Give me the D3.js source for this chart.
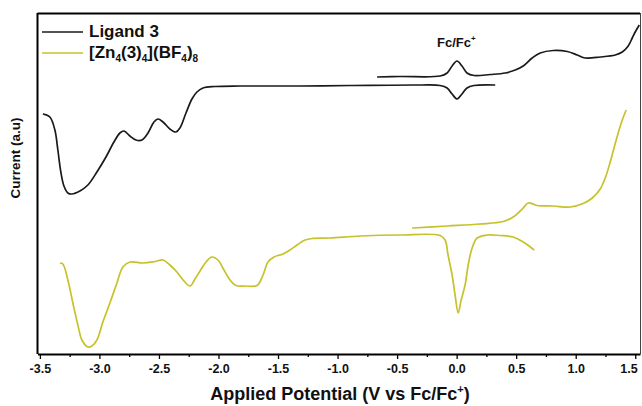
<html>
<head>
<meta charset="utf-8">
<script src="https://d3js.org/d3.v7.min.js"></script>
</head>
<style>
    body { margin: 0; background: #fff; }
    text { font-family: "Liberation Sans", Arial, sans-serif; font-weight: bold; }
    .x-axis .domain { stroke: #000; stroke-width: 2; }
    .x-axis line { stroke: #000; stroke-width: 1.3; }
</style>
<body>
<svg id="cv" width="642" height="406"></svg>
<script>
// potentials (V vs Fc/Fc+) and current (a.u.)
const ligandScan1_V = [-3.475,-3.416,-3.374,-3.349,-3.324,-3.298,-3.265,-3.231,-3.164,-3.097,-3.021,-2.945,-2.878,-2.828,-2.794,-2.744,-2.693,-2.643,-2.592,-2.542,-2.508,-2.466,-2.408,-2.357,-2.324,-2.273,-2.223,-2.181,-2.130,-2.029,-1.819,-1.315,-0.895,-0.307,-0.139,-0.080,-0.038,0.003,0.045,0.087,0.146,0.324];
const ligandScan1_I = [239,236,223,203,181,167,160,159,162,168,181,196,211,220,222,217,213,213,220,231,234,231,224,221,225,240,254,261,265,266.5,267,267,267.5,268,267.5,265,259,254,259,265,267.5,268];

const ligandScan2_V = [-0.668,-0.475,-0.139,-0.080,-0.038,0.003,0.045,0.087,0.146,0.282,0.408,0.492,0.559,0.634,0.702,0.811,0.929,1.013,1.080,1.206,1.332,1.391,1.441,1.475,1.500,1.534];
const ligandScan2_I = [276,276.5,277,280,287,292,287,280,277.5,278.5,280,283,287,295,300,302.5,301.5,298,295,296,298,301,307,315,321,328];

const complexScan1_V = [-3.332,-3.307,-3.265,-3.223,-3.181,-3.147,-3.097,-3.063,-3.021,-2.971,-2.912,-2.853,-2.803,-2.744,-2.634,-2.534,-2.466,-2.408,-2.349,-2.290,-2.239,-2.197,-2.155,-2.105,-2.055,-2.004,-1.954,-1.903,-1.853,-1.777,-1.676,-1.626,-1.584,-1.534,-1.458,-1.399,-1.340,-1.273,-1.214,-1.063,-0.811,-0.475,-0.139,-0.097,-0.072,-0.038,-0.013,0.013,0.038,0.071,0.097,0.130,0.172,0.256,0.366,0.475,0.559,0.609,0.651];
const complexScan1_I = [90,89,73,50,28,13,6,7,13,31,50,70,86,91,90,91.5,93,88,81,72,67,74,82,91,96,93,83,73,67.5,67,67.5,78,91,96,99,103,108,113,114.5,115,117,118,117.5,113,98,78,58,40,53,68,88,105,115,118,117.5,116,111,107,103];

const complexScan2_V = [-0.374,-0.080,0.197,0.391,0.475,0.525,0.559,0.601,0.643,0.676,0.811,0.954,1.063,1.139,1.206,1.248,1.290,1.324,1.357,1.391,1.424];
const complexScan2_I = [125,127,129,131.5,136,141,145,150,149,147.5,147,146,149.5,155,164,175,191,206,220,233,243];

const xTicks = d3.range(-3.5, 1.51, 0.25);
const legendNames = ["Ligand 3", "complex"];
const colors = ["#1a1a1a", "#c6c22a"];

const svg = d3.select("#cv");
const x = d3.scaleLinear().domain([-3.52, 1.54]).range([37.5, 640]);
const y = d3.scaleLinear().domain([0, 340]).range([353, 13]);

const zip = (a, b) => a.map((v, i) => [v, b[i]]);
const line = d3.line().x(d => x(d[0])).y(d => y(d[1])).curve(d3.curveCatmullRom.alpha(0.5));
const isMajor = d => Math.abs(d * 2 - Math.round(d * 2)) < 1e-6;

const series = [
    { pts: zip(complexScan1_V, complexScan1_I), c: colors[1] },
    { pts: zip(complexScan2_V, complexScan2_I), c: colors[1] },
    { pts: zip(ligandScan1_V, ligandScan1_I), c: colors[0] },
    { pts: zip(ligandScan2_V, ligandScan2_I), c: colors[0] }
];

svg.selectAll("path.scan")
    .data(series)
    .join("path")
    .attr("class", "scan")
    .attr("d", d => line(d.pts))
    .attr("fill", "none")
    .attr("stroke", d => d.c)
    .attr("stroke-width", 1.7);

// frame
svg.append("line").attr("x1", 37.5).attr("x2", 640).attr("y1", 13.5).attr("y2", 13.5)
    .attr("stroke", "#000").attr("stroke-width", 2.2);
svg.append("line").attr("x1", 37.5).attr("x2", 37.5).attr("y1", 13).attr("y2", 354)
    .attr("stroke", "#000").attr("stroke-width", 2);
svg.append("line").attr("x1", 640.5).attr("x2", 640.5).attr("y1", 13).attr("y2", 354)
    .attr("stroke", "#444").attr("stroke-width", 1);

const xAxis = d3.axisBottom(x)
    .tickValues(xTicks)
    .tickSizeOuter(0)
    .tickFormat(d => isMajor(d) ? d.toFixed(1) : "");

const gx = svg.append("g")
    .attr("class", "x-axis")
    .attr("transform", "translate(0,354)")
    .call(xAxis);
gx.selectAll(".tick line").attr("y2", d => isMajor(d) ? 5 : 3);
gx.selectAll(".tick text").attr("y", 10).attr("font-size", 12.5).attr("fill", "#111")
    .style("font-family", "'Liberation Sans', Arial, sans-serif").style("font-weight", "bold");
// keep the last label inside the picture
gx.selectAll(".tick text").filter(d => d > 1.4).attr("text-anchor", "end").attr("x", 2);

// axis titles
const xt = svg.append("text").attr("x", 340).attr("y", 400).attr("text-anchor", "middle")
    .attr("font-size", 18).attr("fill", "#111");
xt.append("tspan").text("Applied Potential (V vs Fc/Fc");
xt.append("tspan").attr("font-size", 11).attr("dy", -7).text("+");
xt.append("tspan").attr("dy", 7).text(")");

svg.append("text").attr("transform", "translate(20,158) rotate(-90)")
    .attr("text-anchor", "middle").attr("font-size", 13.5).attr("fill", "#111")
    .text("Current (a.u)");

// Fc/Fc+ label
const fc = svg.append("text").attr("x", 437).attr("y", 47).attr("font-size", 13).attr("fill", "#111");
fc.append("tspan").text("Fc/Fc");
fc.append("tspan").attr("font-size", 8).attr("dy", -6).text("+");

// legend
const leg = svg.append("g");
leg.selectAll("line").data(colors).join("line")
    .attr("x1", 42).attr("x2", 83)
    .attr("y1", (d, i) => 32 + i * 21).attr("y2", (d, i) => 32 + i * 21)
    .attr("stroke", d => d).attr("stroke-width", 1.7);
leg.append("text").attr("x", 89).attr("y", 37).attr("font-size", 17).attr("fill", "#111").text(legendNames[0]);
const l2 = leg.append("text").attr("x", 89).attr("y", 58).attr("font-size", 17).attr("fill", "#111");
l2.append("tspan").text("[Zn");
l2.append("tspan").attr("font-size", 10).attr("dy", 4).text("4");
l2.append("tspan").attr("dy", -4).text("(3)");
l2.append("tspan").attr("font-size", 10).attr("dy", 4).text("4");
l2.append("tspan").attr("dy", -4).text("](BF");
l2.append("tspan").attr("font-size", 10).attr("dy", 4).text("4");
l2.append("tspan").attr("dy", -4).text(")");
l2.append("tspan").attr("font-size", 10).attr("dy", 4).text("8");
</script>
</body>
</html>
